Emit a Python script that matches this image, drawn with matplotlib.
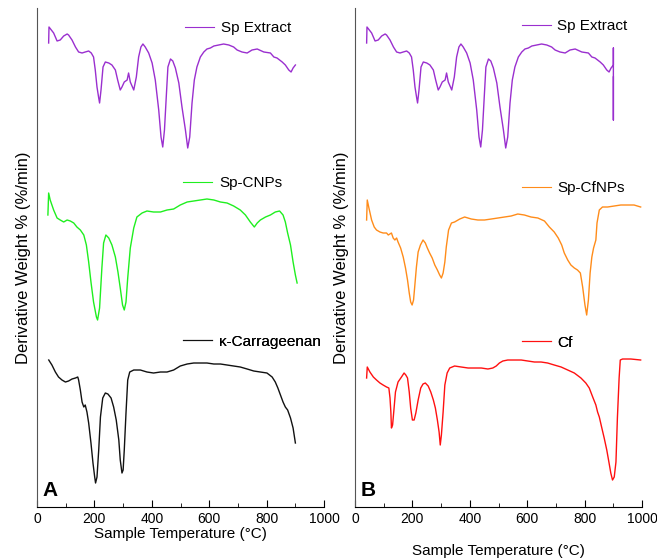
import matplotlib
matplotlib.use("Agg")
import matplotlib.pyplot as plt
from matplotlib.ticker import MultipleLocator

plt.rcParams["font.family"] = ["Liberation Sans", "DejaVu Sans"]

# DTG traces, stacked (arbitrary offset units)
# temperatures in degC
sp_extract_t = [40.6, 41.8, 58, 70, 81, 93, 105, 110, 122, 134, 145, 157, 168, 180, 189, 197,
                203, 209, 215, 218, 223, 230, 238, 250, 261, 273, 281, 290, 296, 304, 314,
                319, 325, 337, 346, 354, 362, 369, 377, 389, 401, 412, 424, 432, 438, 444,
                451, 456, 465, 473, 482, 494, 505, 517, 525, 532, 540, 548, 557, 569, 581,
                592, 604, 616, 633, 650, 668, 685, 697, 714, 732, 749, 767, 790, 813, 825,
                836, 854, 865, 877, 885, 892, 900]
sp_extract_y = [464, 480, 474, 466, 467, 471, 473, 472, 467, 460, 455, 454, 455, 456, 454, 450,
                437, 420, 409, 404, 417, 440, 445, 444, 442, 437, 427, 417, 420, 425, 427,
                434, 425, 417, 430, 450, 460, 463, 460, 454, 444, 427, 397, 370, 360, 377,
                414, 440, 448, 446, 439, 424, 400, 377, 359, 370, 404, 427, 440, 450, 455,
                458, 459, 461, 462, 463, 462, 460, 457, 455, 454, 457, 458, 455, 454, 450,
                449, 445, 442, 437, 435, 439, 442]
# panel B version ends with an instrument spike at 900
spike_t = [900, 900, 900]
spike_y = [459, 387, 430]

cnp_t = [38, 40.6, 46, 58, 70, 81, 93, 105, 116, 128, 139, 151, 163, 172, 180, 188, 197,
         207, 211, 218, 226, 232, 240, 250, 261, 273, 282, 290, 298, 304, 310, 316, 325,
         337, 348, 366, 383, 406, 430, 453, 476, 499, 523, 546, 569, 592, 616, 639, 662,
         685, 708, 726, 743, 757, 767, 778, 796, 813, 830, 845, 857, 865, 873, 883, 892,
         900, 906]
cnp_y = [292, 314, 307, 297, 289, 287, 285, 287, 286, 284, 280, 277, 272, 262, 245, 225, 205,
         190, 187, 199, 239, 264, 272, 269, 262, 250, 235, 219, 202, 197, 205, 229, 259,
         279, 290, 294, 296, 295, 295, 297, 298, 302, 305, 306, 307, 308, 307, 305, 304,
         301, 297, 292, 285, 280, 284, 287, 290, 292, 295, 296, 292, 285, 274, 262, 245,
         232, 224]

carr_t = [41, 52, 64, 75, 87, 99, 110, 122, 134, 142, 145, 151, 157, 163, 168, 174, 180,
          188, 195, 201, 204, 209, 215, 221, 229, 238, 247, 258, 267, 276, 285, 290, 296,
          300, 304, 310, 316, 323, 337, 360, 383, 406, 430, 453, 476, 499, 523, 546, 569,
          592, 616, 639, 662, 685, 708, 732, 755, 778, 801, 819, 830, 839, 848, 857, 865,
          873, 883, 892, 900]
carr_y = [147, 142, 135, 130, 127, 125, 126, 128, 129, 130, 127, 117, 105, 100, 102, 95, 84,
          64, 44, 30, 24, 30, 57, 90, 109, 114, 113, 109, 100, 87, 67, 47, 34,
          37, 57, 94, 127, 135, 137, 137, 135, 134, 135, 135, 137, 141, 143, 144, 144,
          144, 143, 143, 142, 141, 140, 138, 136, 135, 134, 130, 125, 119, 112, 105, 100,
          97, 89, 79, 64]

cfnp_t = [40.5, 42.8, 48.6, 57.9, 67, 75, 87, 98, 110, 116, 127, 133, 139, 145, 150, 159,
          168, 176, 183, 189, 194, 199, 204, 208, 214, 220, 228, 237, 245, 252, 260, 269,
          278, 287, 295, 301, 307, 313, 318, 326, 336, 347, 365, 382, 405, 428, 451, 475,
          498, 521, 544, 567, 590, 613, 637, 660, 677, 694, 708, 720, 729, 741, 752, 764,
          775, 785, 793, 801, 807, 813, 819, 825, 831, 839, 843, 851, 862, 880, 903, 926,
          949, 972, 995]
cfnp_y = [287, 307, 299, 287, 280, 277, 275, 274, 274, 272, 274, 269, 267, 269, 265, 259,
          250, 239, 227, 214, 205, 202, 207, 220, 240, 255, 262, 267, 264, 259, 254, 249,
          242, 237, 232, 229, 234, 245, 260, 277, 284, 285, 288, 290, 288, 287, 287, 288,
          289, 290, 291, 293, 292, 290, 289, 286, 280, 275, 269, 262, 254, 247, 242, 239,
          237, 234, 220, 202, 192, 207, 234, 250, 259, 267, 284, 297, 300, 300, 301, 302,
          302, 302, 300]

cf_t = [40.5, 42.8, 52, 64, 75, 87, 98, 110, 118, 122, 125, 127, 131, 135, 141, 150, 162,
        171, 177, 183, 189, 194, 200, 206, 212, 220, 229, 237, 245, 255, 264, 273, 280,
        287, 293, 297, 301, 307, 313, 321, 330, 347, 370, 394, 417, 440, 463, 480, 492,
        503, 515, 532, 556, 579, 602, 625, 648, 671, 694, 718, 741, 764, 787, 804, 816,
        828, 839, 845, 851, 859, 868, 877, 885, 891, 897, 903, 909, 914, 920, 924, 932,
        961, 995]
cf_y = [129, 140, 135, 130, 127, 124, 122, 120, 119, 109, 95, 79, 82, 95, 115, 125, 130,
        134, 132, 129, 115, 99, 87, 87, 94, 107, 119, 123, 124, 121, 115, 107, 99,
        87, 75, 62, 72, 95, 122, 134, 139, 141, 140, 139, 139, 139, 138, 139, 141,
        144, 146, 147, 147, 147, 146, 145, 145, 144, 142, 140, 137, 134, 129, 124, 119,
        110, 102, 95, 90, 80, 69, 57, 44, 34, 27, 30, 45, 89, 129, 147, 148,
        148, 147]

# legend anchors (axes fraction) for each trace
panels = [
    ("A", [
        (sp_extract_t, sp_extract_y, "#9a2fcf", "Sp Extract", (0.516, 0.960)),
        (cnp_t, cnp_y, "#1fef1f", "Sp-CNPs", (0.509, 0.649)),
        (carr_t, carr_y, "#111111", "\u03ba-Carrageenan", (0.509, 0.331)),
    ], 0.0563, 1),
    ("B", [
        (sp_extract_t + spike_t, sp_extract_y + spike_y, "#9a2fcf", "Sp Extract", (0.580, 0.964)),
        (cfnp_t, cfnp_y, "#ff8c1a", "Sp-CfNPs", (0.580, 0.639)),
        (cf_t, cf_y, "#ff1010", "Cf", (0.580, 0.329)),
    ], 0.5403, 13),
]

fig = plt.figure(figsize=(6.57, 5.59), dpi=100)

for letter, traces, x0, lpad in panels:
    ax = fig.add_axes([x0, 0.093, 0.437, 0.8927])
    for t, y, col, lab, anchor in traces:
        line, = ax.plot(t, y, color=col, lw=1.0)
        leg = ax.legend(handles=[line], labels=[lab], loc="center left",
                        bbox_to_anchor=anchor, frameon=False, fontsize=11,
                        handlelength=1.9, handletextpad=0.45,
                        borderpad=0, borderaxespad=0)
        leg.get_lines()[0].set_linewidth(0.8)
        ax.add_artist(leg)

    ax.set_xlim(0, 1000)
    ax.set_ylim(0, 499)
    ax.xaxis.set_major_locator(MultipleLocator(200))
    ax.xaxis.set_minor_locator(MultipleLocator(100))
    ax.tick_params(axis="x", which="both", direction="in", labelsize=10)
    ax.tick_params(axis="x", which="major", length=5)
    ax.tick_params(axis="x", which="minor", length=3)
    ax.set_yticks([])
    ax.spines["top"].set_visible(False)
    ax.spines["right"].set_visible(False)
    ax.spines["left"].set_color("#555555")
    ax.set_xlabel("Sample Temperature (\u00b0C)", fontsize=11, labelpad=lpad)
    ax.set_ylabel("Derivative Weight % (%/min)", fontsize=12, labelpad=4)
    ax.text(0.02, 0.015, letter, transform=ax.transAxes, fontsize=15,
            fontweight="bold", ha="left", va="bottom")

fig.savefig("out.png", dpi=100)
